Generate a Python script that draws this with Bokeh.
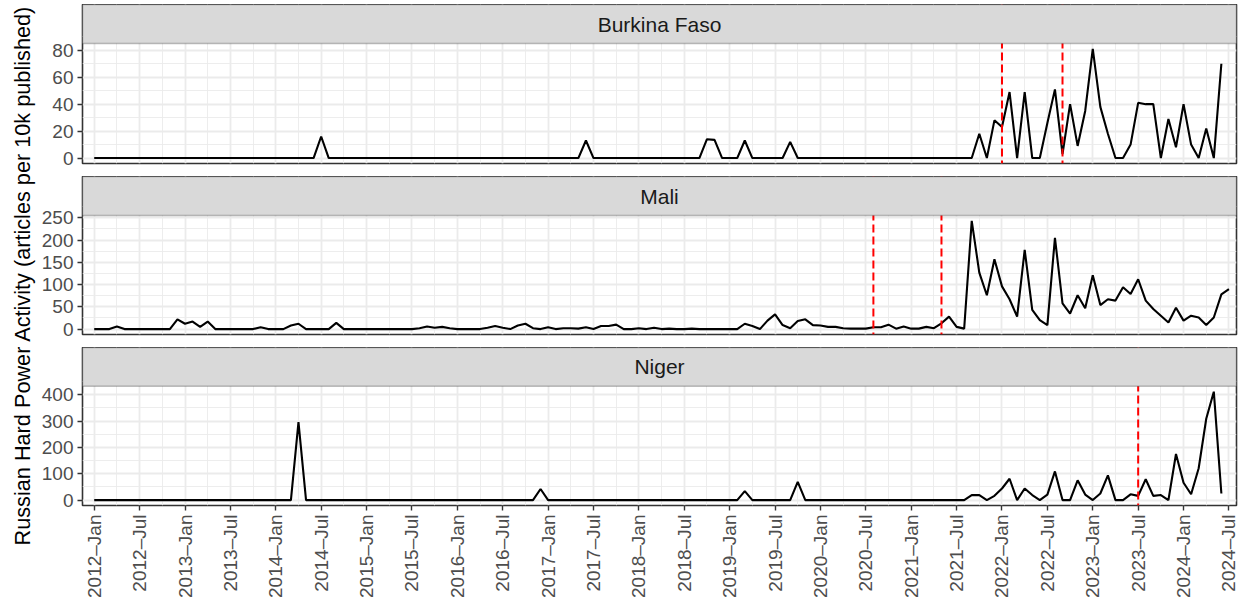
import math
from bokeh.plotting import figure
from bokeh.models import FixedTicker, Range1d, BoxAnnotation, Label, Span
from bokeh.layouts import column, row
from bokeh.embed import file_html
from bokeh.resources import INLINE

# ---------------- data (monthly, starting 2012-Jan) ----------------
burkina = [
    0, 0, 0, 0, 0, 0, 0, 0, 0, 0, 0, 0,            # 2012
    0, 0, 0, 0, 0, 0, 0, 0, 0, 0, 0, 0,            # 2013
    0, 0, 0, 0, 0, 0, 16, 0, 0, 0, 0, 0,           # 2014
    0, 0, 0, 0, 0, 0, 0, 0, 0, 0, 0, 0,            # 2015
    0, 0, 0, 0, 0, 0, 0, 0, 0, 0, 0, 0,            # 2016
    0, 0, 0, 0, 0, 13, 0, 0, 0, 0, 0, 0,           # 2017
    0, 0, 0, 0, 0, 0, 0, 0, 0, 14, 13.5, 0,        # 2018
    0, 0, 13, 0, 0, 0, 0, 0, 12, 0, 0, 0,          # 2019
    0, 0, 0, 0, 0, 0, 0, 0, 0, 0, 0, 0,            # 2020
    0, 0, 0, 0, 0, 0, 0, 0, 0, 18, 0, 28,          # 2021
    23, 49, 0, 49, 0, 0, 26, 51, 3, 40, 9, 35,     # 2022
    81, 38, 18, 0, 0, 10, 41, 40, 40, 0, 29, 8,    # 2023
    40, 10, 0, 22, 0, 70,                          # 2024
]
mali = [
    0, 0, 0, 6, 0, 0, 0, 0, 0, 0, 0, 22,           # 2012
    12, 17, 5, 17, 0, 0, 0, 0, 0, 0, 4, 0,         # 2013
    0, 0, 8, 12, 0, 0, 0, 0, 14, 0, 0, 0,          # 2014
    0, 0, 0, 0, 0, 0, 0, 2, 6, 3, 5, 2,            # 2015
    0, 0, 0, 0, 3, 7, 3, 0, 8, 12, 2, 0,           # 2016
    4, 0, 2, 2, 1, 4, 0, 7, 7, 10, 0, 0,           # 2017
    2, 0, 3, 0, 1, 0, 0, 1, 0, 0, 0, 0,            # 2018
    0, 0, 12, 7, 0, 19, 33, 9, 2, 18, 22, 9,       # 2019
    8, 5, 5, 2, 1, 1, 1, 4, 4, 10, 1, 6,           # 2020
    1, 1, 5, 2, 13, 28, 5, 1, 243, 127, 76, 157,   # 2021
    96, 67, 28, 178, 43, 20, 9, 205, 58, 35, 76, 47,  # 2022
    121, 54, 67, 64, 94, 79, 112, 64, 45, 30, 15, 48, # 2023
    19, 30, 26, 9, 26, 78, 90,                     # 2024
]
niger = [
    0, 0, 0, 0, 0, 0, 0, 0, 0, 0, 0, 0,            # 2012
    0, 0, 0, 0, 0, 0, 0, 0, 0, 0, 0, 0,            # 2013
    0, 0, 0, 296, 0, 0, 0, 0, 0, 0, 0, 0,          # 2014
    0, 0, 0, 0, 0, 0, 0, 0, 0, 0, 0, 0,            # 2015
    0, 0, 0, 0, 0, 0, 0, 0, 0, 0, 0, 42,           # 2016
    0, 0, 0, 0, 0, 0, 0, 0, 0, 0, 0, 0,            # 2017
    0, 0, 0, 0, 0, 0, 0, 0, 0, 0, 0, 0,            # 2018
    0, 0, 34, 0, 0, 0, 0, 0, 0, 69, 0, 0,          # 2019
    0, 0, 0, 0, 0, 0, 0, 0, 0, 0, 0, 0,            # 2020
    0, 0, 0, 0, 0, 0, 0, 0, 19, 19, 0, 16,         # 2021
    44, 81, 0, 44, 19, 0, 21, 109, 0, 0, 75, 21,   # 2022
    0, 25, 94, 0, 0, 22, 16, 79, 16, 19, 0, 175,   # 2023
    66, 22, 121, 309, 412, 25,                     # 2024
]

countries = ["Burkina Faso", "Mali", "Niger"]
series = {"Burkina Faso": burkina, "Mali": mali, "Niger": niger}
# coup months as (year, month)
coups = {"Burkina Faso": [(2022, 1), (2022, 9)],
         "Mali": [(2020, 8), (2021, 5)],
         "Niger": [(2023, 7)]}
y_breaks = {"Burkina Faso": [0, 20, 40, 60, 80],
            "Mali": [0, 50, 100, 150, 200, 250],
            "Niger": [0, 100, 200, 300, 400]}
tick_labels = ["2012–Jan", "2012–Jul", "2013–Jan", "2013–Jul", "2014–Jan", "2014–Jul",
               "2015–Jan", "2015–Jul", "2016–Jan", "2016–Jul", "2017–Jan", "2017–Jul",
               "2018–Jan", "2018–Jul", "2019–Jan", "2019–Jul", "2020–Jan", "2020–Jul",
               "2021–Jan", "2021–Jul", "2022–Jan", "2022–Jul", "2023–Jan", "2023–Jul",
               "2024–Jan", "2024–Jul"]
y_title = "Russian Hard Power Activity (articles per 10k published)"

# ---------------- layout constants ----------------
FONT = "Liberation Sans"
TICK_FS = "19px"
STRIP_FS = "21px"
TITLE_FS = "21.7px"
TITLE_W = 36
LEFT_B = 46
RIGHT_B = 2
FRAME_W = 1154
STRIP_PX = 39
TOP_OFFSET = 4
panel_px = {"Burkina Faso": 120, "Mali": 119, "Niger": 120}
bottom_b = {"Burkina Faso": 13, "Mali": 13, "Niger": 94}

def month_index(y, m):
    return (y - 2012) * 12 + (m - 1)

tick_pos = [i * 6 for i in range(len(tick_labels))]
minor_pos = [i * 6 + 3 for i in range(-1, len(tick_labels))]
x_lo, x_hi = -1.55, 151.0

figs = []
for c in countries:
    vals = series[c]
    ymax = max(vals)
    lo = -0.05 * ymax
    hi = ymax * 1.05
    pp = panel_px[c]
    top = hi + (hi - lo) * STRIP_PX / pp
    height = pp + STRIP_PX + bottom_b[c]
    p = figure(width=LEFT_B + FRAME_W + RIGHT_B, height=height,
               x_range=Range1d(x_lo, x_hi), y_range=Range1d(lo, top),
               toolbar_location=None, output_backend="svg",
               min_border_left=LEFT_B, min_border_right=RIGHT_B,
               min_border_top=0, min_border_bottom=bottom_b[c])
    p.background_fill_color = "white"
    p.border_fill_color = "white"
    p.outline_line_color = "#333333"
    p.outline_line_width = 1.6

    xt = FixedTicker(ticks=tick_pos, minor_ticks=minor_pos)
    br = y_breaks[c]
    step = br[1] - br[0]
    yt = FixedTicker(ticks=br, minor_ticks=[b + step / 2 for b in br])
    p.xaxis.ticker = xt
    p.xgrid.ticker = xt
    p.yaxis.ticker = yt
    p.ygrid.ticker = yt
    for g in (p.xgrid, p.ygrid):
        g.grid_line_color = "#EBEBEB"
        g.grid_line_width = 1.8
        g.minor_grid_line_color = "#EBEBEB"
        g.minor_grid_line_width = 0.9

    for ax in (p.yaxis, p.xaxis):
        ax.axis_line_color = None
        ax.major_tick_line_color = "#333333"
        ax.major_tick_line_width = 1.4
        ax.major_tick_out = 5
        ax.major_tick_in = 0
        ax.minor_tick_line_color = None
        ax.major_label_text_color = "#4D4D4D"
        ax.major_label_text_font = FONT
        ax.major_label_text_font_size = TICK_FS
        ax.major_label_standoff = 4
    if c != "Niger":
        p.xaxis.visible = False
    else:
        p.xaxis.major_label_overrides = {pos: lab for pos, lab in zip(tick_pos, tick_labels)}
        p.xaxis.major_label_orientation = math.pi / 2

    p.line(list(range(len(vals))), vals, line_color="black", line_width=2.1)

    for (yy, mm) in coups[c]:
        p.add_layout(Span(location=month_index(yy, mm), dimension="height",
                          line_color="#FF0000", line_width=2, line_dash="8 4",
                          level="glyph"))

    p.add_layout(BoxAnnotation(bottom=hi, top=top, left=x_lo, right=x_hi,
                               fill_color="#D9D9D9", fill_alpha=1.0,
                               line_color="#333333", line_width=1.6))
    p.add_layout(Label(x=(x_lo + x_hi) / 2, y=(hi + top) / 2, text=c,
                       text_align="center", text_baseline="middle",
                       text_font=FONT, text_font_size=STRIP_FS, text_color="#1A1A1A"))
    figs.append(p)

total_h = sum(f.height for f in figs)
tf = figure(width=TITLE_W, height=total_h, x_range=Range1d(0, TITLE_W),
            y_range=Range1d(0, total_h), toolbar_location=None, output_backend="svg",
            x_axis_location=None, y_axis_location=None, min_border=0)
tf.outline_line_color = None
tf.grid.visible = False
tf.background_fill_color = "white"
tf.border_fill_color = "white"
tf.add_layout(Label(x=22, y=total_h - (275 - TOP_OFFSET), text=y_title, angle=math.pi / 2,
                    text_align="center", text_baseline="middle",
                    text_font=FONT, text_font_size=TITLE_FS, text_color="black"))

layout = row(tf, column(*figs, spacing=0), spacing=0, margin=(TOP_OFFSET, 0, -8, 0))
open("out.html", "w").write(file_html(layout, INLINE))
